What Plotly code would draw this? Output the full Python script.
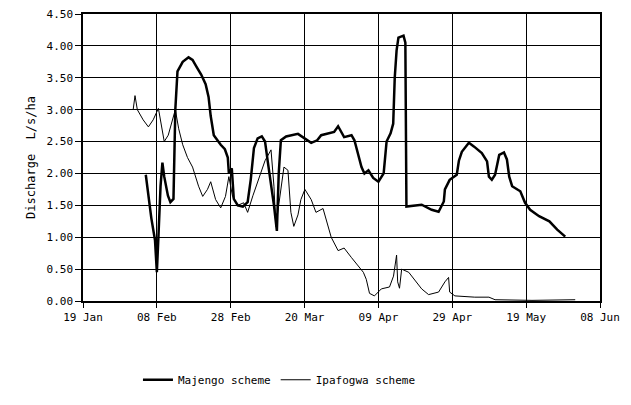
import plotly.graph_objects as go

# ---- data ----
majengo_dates = [
    "2001-02-05", "2001-02-06 12:00", "2001-02-07 12:00", "2001-02-08", "2001-02-08 10:00",
    "2001-02-09", "2001-02-09 12:00", "2001-02-10", "2001-02-11", "2001-02-11 16:00",
    "2001-02-12 12:00", "2001-02-12 20:00", "2001-02-13", "2001-02-13 14:00", "2001-02-15",
    "2001-02-16 14:00", "2001-02-17 16:00", "2001-02-18 16:00", "2001-02-20", "2001-02-21 05:00",
    "2001-02-22", "2001-02-22 14:00", "2001-02-23 10:00", "2001-02-25 07:00", "2001-02-26 10:00",
    "2001-02-27 05:00", "2001-02-27 12:00", "2001-02-28 07:00", "2001-02-28 20:00", "2001-03-01 22:00",
    "2001-03-03 07:00", "2001-03-04 14:00", "2001-03-05 10:00", "2001-03-06 07:00", "2001-03-07 07:00",
    "2001-03-08 10:00", "2001-03-09 07:00", "2001-03-10", "2001-03-10 22:00", "2001-03-11 17:00",
    "2001-03-12 12:00", "2001-03-13", "2001-03-13 14:00", "2001-03-15", "2001-03-18 05:00",
    "2001-03-19 22:00", "2001-03-21 19:00", "2001-03-23 10:00", "2001-03-24 12:00", "2001-03-28",
    "2001-03-29 02:00", "2001-03-30 17:00", "2001-04-01 17:00", "2001-04-02 12:00", "2001-04-03 14:00",
    "2001-04-04 10:00", "2001-04-05 05:00", "2001-04-06 07:00", "2001-04-07 14:00", "2001-04-09",
    "2001-04-10 10:00", "2001-04-11 05:00", "2001-04-12 07:00", "2001-04-13", "2001-04-13 10:00",
    "2001-04-13 22:00", "2001-04-14 10:00", "2001-04-15 19:00", "2001-04-16 07:00", "2001-04-16 14:00",
    "2001-04-20 17:00", "2001-04-23 10:00", "2001-04-25 07:00", "2001-04-26 17:00", "2001-04-27",
    "2001-04-28 07:00", "2001-04-30 05:00", "2001-04-30 19:00", "2001-05-01 14:00", "2001-05-03 12:00",
    "2001-05-04 22:00", "2001-05-07", "2001-05-08 10:00", "2001-05-08 22:00", "2001-05-09 17:00",
    "2001-05-10 14:00", "2001-05-11 17:00", "2001-05-13", "2001-05-13 19:00", "2001-05-14 10:00",
    "2001-05-15 05:00", "2001-05-17 10:00", "2001-05-18 17:00", "2001-05-20 02:00", "2001-05-22 12:00",
    "2001-05-25 07:00", "2001-05-27 10:00", "2001-05-29 14:00",
]
majengo_values = [
    1.98, 1.30, 0.95, 0.45, 1.00,
    1.80, 2.17, 1.95, 1.65, 1.55,
    1.60, 2.40, 3.00, 3.60, 3.75,
    3.82, 3.78, 3.68, 3.55, 3.40,
    3.20, 2.90, 2.60, 2.45, 2.38,
    2.25, 2.00, 2.08, 1.60, 1.50,
    1.48, 1.55, 1.90, 2.40, 2.55,
    2.58, 2.50, 2.20, 1.85, 1.50,
    1.10, 2.00, 2.52, 2.58, 2.62,
    2.55, 2.48, 2.52, 2.60, 2.65,
    2.74, 2.57, 2.60, 2.52, 2.26,
    2.10, 2.00, 2.05, 1.93, 1.87,
    2.00, 2.50, 2.63, 2.78, 3.50,
    3.93, 4.13, 4.16, 4.05, 1.48,
    1.51, 1.43, 1.40, 1.56, 1.75,
    1.90, 1.98, 2.20, 2.34, 2.48,
    2.42, 2.32, 2.19, 1.95, 1.90,
    1.98, 2.29, 2.33, 2.22, 1.95,
    1.80, 1.72, 1.54, 1.43, 1.33,
    1.25, 1.12, 1.01,
]

ipafogwa_dates = [
    "2001-02-01 14:00", "2001-02-02 02:00", "2001-02-02 17:00", "2001-02-04 07:00", "2001-02-05 17:00",
    "2001-02-07", "2001-02-08 10:00", "2001-02-09 05:00", "2001-02-10", "2001-02-11 02:00",
    "2001-02-12 05:00", "2001-02-13", "2001-02-13 22:00", "2001-02-15", "2001-02-16 07:00",
    "2001-02-17 16:00", "2001-02-19 07:00", "2001-02-20 10:00", "2001-02-21 17:00", "2001-02-22 14:00",
    "2001-02-23 22:00", "2001-02-25 07:00", "2001-02-26 14:00", "2001-02-27 12:00", "2001-02-28 12:00",
    "2001-03-01 22:00", "2001-03-03 12:00", "2001-03-04 14:00", "2001-03-06", "2001-03-07 14:00",
    "2001-03-09 07:00", "2001-03-10 22:00", "2001-03-11 17:00", "2001-03-12 05:00", "2001-03-13 14:00",
    "2001-03-14 10:00", "2001-03-15 12:00", "2001-03-16 07:00", "2001-03-17 02:00", "2001-03-18 05:00",
    "2001-03-19", "2001-03-20 02:00", "2001-03-21 19:00", "2001-03-23 02:00", "2001-03-25",
    "2001-03-26 10:00", "2001-03-27 05:00", "2001-03-29 02:00", "2001-03-30 17:00", "2001-04-01 17:00",
    "2001-04-03 14:00", "2001-04-04 22:00", "2001-04-05 17:00", "2001-04-06 14:00", "2001-04-07 22:00",
    "2001-04-09 19:00", "2001-04-12", "2001-04-13 02:00", "2001-04-13 22:00", "2001-04-14 05:00",
    "2001-04-14 17:00", "2001-04-15 07:00", "2001-04-17 05:00", "2001-04-18 19:00", "2001-04-20 17:00",
    "2001-04-22 14:00", "2001-04-25 07:00", "2001-04-27", "2001-04-28", "2001-04-28 07:00",
    "2001-04-29 17:00", "2001-05-05 02:00", "2001-05-08 22:00", "2001-05-10 14:00", "2001-05-20 14:00",
    "2001-06-01 07:00",
]
ipafogwa_values = [
    3.00, 3.22, 3.00, 2.84, 2.73,
    2.84, 3.02, 2.76, 2.50, 2.60,
    2.85, 3.00, 2.70, 2.45, 2.25,
    2.10, 1.80, 1.64, 1.75, 1.87,
    1.59, 1.46, 1.64, 1.95, 1.64,
    1.50, 1.54, 1.39, 1.65, 1.90,
    2.20, 2.37, 1.80, 1.17, 1.80,
    2.10, 2.05, 1.39, 1.17, 1.35,
    1.59, 1.75, 1.59, 1.39, 1.45,
    1.17, 1.00, 0.79, 0.83, 0.68,
    0.55, 0.45, 0.34, 0.12, 0.08,
    0.19, 0.22, 0.39, 0.72, 0.30,
    0.20, 0.50, 0.45, 0.34, 0.19,
    0.10, 0.14, 0.30, 0.37, 0.14,
    0.08, 0.06, 0.06, 0.02, 0.01,
    0.02,
]

x_tick_dates = ["2001-01-19", "2001-02-08", "2001-02-28", "2001-03-20",
                "2001-04-09", "2001-04-29", "2001-05-19", "2001-06-08"]
x_tick_labels = ["19 Jan", "08 Feb", "28 Feb", "20 Mar", "09 Apr", "29 Apr", "19 May", "08 Jun"]
y_tick_vals = [0.0, 0.5, 1.0, 1.5, 2.0, 2.5, 3.0, 3.5, 4.0, 4.5]
y_tick_labels = ["0.00", "0.50", "1.00", "1.50", "2.00", "2.50", "3.00", "3.50", "4.00", "4.50"]

FONT = "DejaVu Sans Mono"

fig = go.Figure()
fig.add_trace(go.Scatter(
    x=majengo_dates, y=majengo_values, mode="lines", name="Majengo scheme",
    line=dict(color="black", width=2.5),
))
fig.add_trace(go.Scatter(
    x=ipafogwa_dates, y=ipafogwa_values, mode="lines", name="Ipafogwa scheme",
    line=dict(color="black", width=1),
))

axis_common = dict(
    showgrid=True, gridcolor="black", gridwidth=1,
    showline=True, linecolor="black", linewidth=1.5, mirror=True,
    ticks="outside", tickcolor="black", tickwidth=1,
    tickfont=dict(family=FONT, size=11), zeroline=False,
)

fig.update_layout(
    template="none",
    width=631, height=405,
    margin=dict(l=83, r=31, t=14, b=103),
    paper_bgcolor="white", plot_bgcolor="white",
    font=dict(family=FONT, size=11, color="black"),
    showlegend=True,
    legend=dict(orientation="h", x=0.38, y=-0.27, xanchor="center", yanchor="middle",
                font=dict(family=FONT, size=11), bgcolor="rgba(0,0,0,0)",
                itemwidth=30, tracegroupgap=0),
    xaxis=dict(
        type="date", range=["2001-01-19", "2001-06-08"],
        tickmode="array", tickvals=x_tick_dates, ticktext=x_tick_labels,
        ticklen=5, **axis_common,
    ),
    yaxis=dict(
        range=[0, 4.5], tickmode="array", tickvals=y_tick_vals, ticktext=y_tick_labels,
        ticklen=6, **axis_common,
        title=dict(text="Discharge  L/s/ha", font=dict(family=FONT, size=12), standoff=8),
    ),
)

fig.write_html("out.html")
